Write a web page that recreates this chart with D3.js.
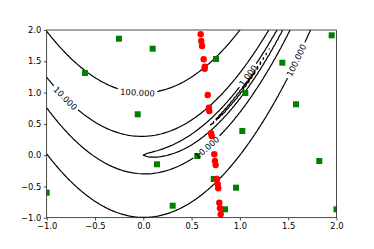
<!DOCTYPE html>
<html>
<head>
<meta charset="utf-8">
<script src="https://cdn.jsdelivr.net/npm/d3@7"></script>
<style>
    body { margin: 0; background: #fff; }
    svg { display: block; }
    text { font-family: "DejaVu Sans", sans-serif; }
</style>
</head>
<body>
<div id="chart"></div>
<script>
    // contour levels of the surface
    const levels = [0.1, 1, 10, 100];

    // red path points
    const redX = [0.594, 0.600, 0.608, 0.625, 0.636, 0.636, 0.667, 0.680, 0.683, 0.701,
                  0.708, 0.735, 0.742, 0.749, 0.763, 0.770, 0.776, 0.787, 0.794, 0.801];
    const redY = [1.931, 1.824, 1.744, 1.532, 1.413, 1.381, 0.961, 0.758, 0.705, 0.349,
                  0.306, 0.013, -0.094, -0.158, -0.381, -0.466, -0.530, -0.760, -0.850, -0.946];

    // green samples
    const greenX = [-0.252, 0.097, -0.604, -0.058, 0.753, 1.950, 1.439, 1.056, 1.581, 1.025,
                    -1.000, 0.142, 0.304, 0.559, 1.822, 0.729, 0.960, 0.846, 2.000];
    const greenY = [1.861, 1.701, 1.313, 0.653, 1.537, 1.915, 1.477, 0.993, 0.813, 0.386,
                    -0.600, -0.146, -0.808, -0.014, -0.094, -0.381, -0.520, -0.866, -0.866];

    // inline contour labels (level, rough spot on the curve)
    const labelLevel = [100, 10, 1, 100, 10];
    const labelX = [-0.065, -0.81, 1.087, 1.581, 0.656];
    const labelY = [1.0, 0.915, 1.281, 1.501, 0.116];

    const xTicks = [-1, -0.5, 0, 0.5, 1, 1.5, 2];
    const yTicks = [-1, -0.5, 0, 0.5, 1, 1.5, 2];

    function rosen(a, b) {
        return (1 - a) * (1 - a) + 100 * (b - a * a) * (b - a * a);
    }

    const width = 374, height = 249;
    const axL = 46.7, axR = 336.5, axT = 30, axB = 217.7;
    const fontSize = 8.4;

    const x = d3.scaleLinear().domain([-1, 2]).range([axL, axR]);
    const y = d3.scaleLinear().domain([-1, 2]).range([axB, axT]);

    const svg = d3.select("#chart").append("svg")
        .attr("width", width)
        .attr("height", height);

    const defs = svg.append("defs");
    defs.append("clipPath").attr("id", "axclip")
        .append("rect")
        .attr("x", axL).attr("y", axT)
        .attr("width", axR - axL).attr("height", axB - axT);

    // 100 x 100 sample grid over the axes, padded a few cells so the grid edge stays outside the clip
    const n = 100, pad = 3;
    const step = 3 / (n - 1);
    const nx = n + 2 * pad, ny = n + 2 * pad;
    const values = new Float64Array(nx * ny);
    for (let j = 0; j < ny; j++) {
        for (let i = 0; i < nx; i++) {
            values[j * nx + i] = rosen(-1 + (i - pad) * step, -1 + (j - pad) * step);
        }
    }

    const contours = d3.contours().size([nx, ny]).thresholds(levels)(values);

    function toPixel(p) {
        return [x(-1 + (p[0] - 0.5 - pad) * step), y(-1 + (p[1] - 0.5 - pad) * step)];
    }

    const path = d3.geoPath(d3.geoTransform({
        point: function (px, py) {
            const q = toPixel([px, py]);
            this.stream.point(q[0], q[1]);
        }
    }));

    const fmt = d3.format(".3f");

    // find label spots and angles on each level's rings
    const labels = labelLevel.map(function (lv, k) {
        const c = contours.find(function (d) { return d.value === lv; });
        const tx = x(labelX[k]), ty = y(labelY[k]);
        let best = null, bestD = Infinity;
        c.coordinates.forEach(function (poly) {
            poly.forEach(function (ring) {
                const pts = ring.map(toPixel);
                pts.forEach(function (p, idx) {
                    const dd = (p[0] - tx) * (p[0] - tx) + (p[1] - ty) * (p[1] - ty);
                    if (dd < bestD) { bestD = dd; best = { pts: pts, idx: idx }; }
                });
            });
        });
        const m = best.pts.length;
        const p = best.pts[best.idx];
        const a0 = best.pts[(best.idx - 2 + m) % m], a1 = best.pts[(best.idx + 2) % m];
        let ang = Math.atan2(a1[1] - a0[1], a1[0] - a0[0]) * 180 / Math.PI;
        if (ang > 90) ang -= 180;
        if (ang < -90) ang += 180;
        return { level: lv, x: p[0], y: p[1], angle: ang, text: fmt(lv) };
    });

    // label text first, so widths are known for the line gaps
    const labelLayer = svg.append("g");
    labels.forEach(function (d) {
        const t = labelLayer.append("text")
            .attr("transform", "translate(" + d.x + "," + d.y + ")rotate(" + d.angle + ")")
            .attr("text-anchor", "middle")
            .attr("dy", "0.36em")
            .style("font-size", fontSize + "px")
            .text(d.text);
        d.w = t.node().getComputedTextLength();
    });

    levels.forEach(function (lv, i) {
        const m = defs.append("mask").attr("id", "gap" + i)
            .attr("maskUnits", "userSpaceOnUse")
            .attr("x", 0).attr("y", 0).attr("width", width).attr("height", height);
        m.append("rect").attr("width", width).attr("height", height).attr("fill", "#fff");
        labels.filter(function (d) { return d.level === lv; }).forEach(function (d) {
            m.append("rect")
                .attr("transform", "translate(" + d.x + "," + d.y + ")rotate(" + d.angle + ")")
                .attr("x", -d.w / 2 - 2.5).attr("y", -fontSize * 0.55)
                .attr("width", d.w + 5).attr("height", fontSize * 1.1)
                .attr("fill", "#000");
        });
    });

    const plot = svg.insert("g", "g").attr("clip-path", "url(#axclip)");

    plot.append("g")
        .selectAll("path")
        .data(contours)
        .enter().append("path")
        .attr("d", path)
        .attr("mask", function (d) { return "url(#gap" + levels.indexOf(d.value) + ")"; })
        .attr("fill", "none")
        .attr("stroke", "#000")
        .attr("stroke-width", 1.2)
        .attr("stroke-linejoin", "round");

    plot.append("g")
        .selectAll("rect")
        .data(greenX)
        .enter().append("rect")
        .attr("x", function (d) { return x(d) - 3; })
        .attr("y", function (d, i) { return y(greenY[i]) - 3; })
        .attr("width", 6)
        .attr("height", 6)
        .attr("fill", "#008000");

    plot.append("g")
        .selectAll("circle")
        .data(redX)
        .enter().append("circle")
        .attr("cx", function (d) { return x(d); })
        .attr("cy", function (d, i) { return y(redY[i]); })
        .attr("r", 3.2)
        .attr("fill", "#ff0000");

    // axes
    const fmtTick = function (v) { return d3.format(".1f")(v).replace("-", "\u2212"); };

    const xAxis = svg.append("g")
        .attr("transform", "translate(0," + axB + ")")
        .call(d3.axisBottom(x).tickValues(xTicks).tickFormat(fmtTick).tickSize(2.8).tickPadding(2.6));
    const yAxis = svg.append("g")
        .attr("transform", "translate(" + axL + ",0)")
        .call(d3.axisLeft(y).tickValues(yTicks).tickFormat(fmtTick).tickSize(2.8).tickPadding(2.6));

    [xAxis, yAxis].forEach(function (ax) {
        ax.select(".domain").remove();
        ax.selectAll("line").attr("stroke", "#000").attr("stroke-width", 0.7);
        ax.selectAll("text")
            .attr("fill", "#000")
            .style("font-family", "'DejaVu Sans', sans-serif")
            .style("font-size", fontSize + "px");
    });

    svg.append("rect")
        .attr("x", axL).attr("y", axT)
        .attr("width", axR - axL).attr("height", axB - axT)
        .attr("fill", "none")
        .attr("stroke", "#000")
        .attr("stroke-width", 0.7);

    // labels above everything
    svg.node().appendChild(labelLayer.node());
</script>
</body>
</html>
